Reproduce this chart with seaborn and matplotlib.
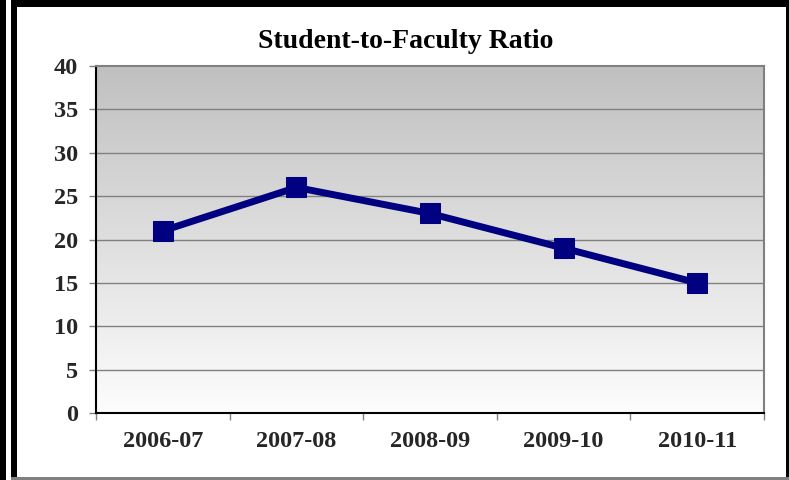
"""
Student-to-Faculty Ratio line chart
"""

import numpy as np
import pandas as pd
import matplotlib
matplotlib.use("Agg")
import matplotlib.pyplot as plt
from matplotlib.colors import LinearSegmentedColormap
from matplotlib.patches import Rectangle
import seaborn as sns

years = ["2006-07", "2007-08", "2008-09", "2009-10", "2010-11"]
ratio = [21, 26, 23, 19, 15]
y_ticks = [0, 5, 10, 15, 20, 25, 30, 35, 40]

sns.set_theme(style="white")
plt.rcParams["font.family"] = ["Liberation Serif", "DejaVu Serif"]
plt.rcParams["font.weight"] = "bold"

W, H = 789, 480
fig = plt.figure(figsize=(W / 100, H / 100), dpi=100)
fig.patch.set_facecolor("white")


def px(x, y, w, h):
    # pixel box (top-left origin) -> figure fraction
    return [x / W, 1 - (y + h) / H, w / W, h / H]


# frame decoration
for (x, y, w, h, c) in [
    (0, 0, 6, 480, "black"),
    (11, 0, 778, 7, "black"),
    (11, 0, 6, 480, "black"),
    (786, 0, 3, 480, "black"),
    (11, 477, 778, 3, "#808080"),
]:
    b = px(x, y, w, h)
    fig.add_artist(Rectangle((b[0], b[1]), b[2], b[3], transform=fig.transFigure,
                             color=c, lw=0, zorder=10))

ax = fig.add_axes(px(96, 66, 668, 347))

# gradient background (grey top -> white bottom)
cmap = LinearSegmentedColormap.from_list("bg", ["#fdfdfd", "#c0c0c0"])
grad = np.linspace(0, 1, 256).reshape(-1, 1)
ax.imshow(grad, extent=[0, 1, 0, 1], transform=ax.transAxes, origin="lower",
          aspect="auto", cmap=cmap, zorder=0)

df = pd.DataFrame({"year": years, "ratio": ratio, "pos": range(len(years))})
sns.lineplot(data=df, x="pos", y="ratio", ax=ax, color="#000080", lw=5,
             marker="s", markersize=15, markeredgecolor="#000080", zorder=3)

ax.set_xlim(-0.5, len(years) - 0.5)
ax.set_ylim(0, 40)
ax.set_yticks(y_ticks)
ax.set_xticks(range(len(years)))
ax.set_xticklabels(years)
ax.set_xticks(np.arange(-0.5, len(years)), minor=True)
ax.set_xlabel("")
ax.set_ylabel("")

for y in y_ticks[1:-1]:
    ax.axhline(y, color="#808080", lw=1, zorder=1)

ax.tick_params(axis="x", which="major", length=0, pad=13, labelsize=17.5)
ax.tick_params(axis="x", which="minor", length=5, width=1, color="#808080",
               direction="out", bottom=True)
ax.tick_params(axis="y", length=5, width=1, color="#808080", direction="out",
               left=True, pad=8, labelsize=17.5)
for lab in ax.get_xticklabels() + ax.get_yticklabels():
    lab.set_fontweight("bold")

ax.spines["left"].set_color("black")
ax.spines["bottom"].set_color("black")
ax.spines["top"].set_color("#808080")
ax.spines["right"].set_color("#808080")
for s in ax.spines.values():
    s.set_linewidth(1.5)
    s.set_visible(True)

fig.text(406 / W, 1 - 41 / H, "Student-to-Faculty Ratio", ha="center", va="center",
         fontsize=20, fontweight="bold", color="black")

fig.savefig("out.png", dpi=100)
